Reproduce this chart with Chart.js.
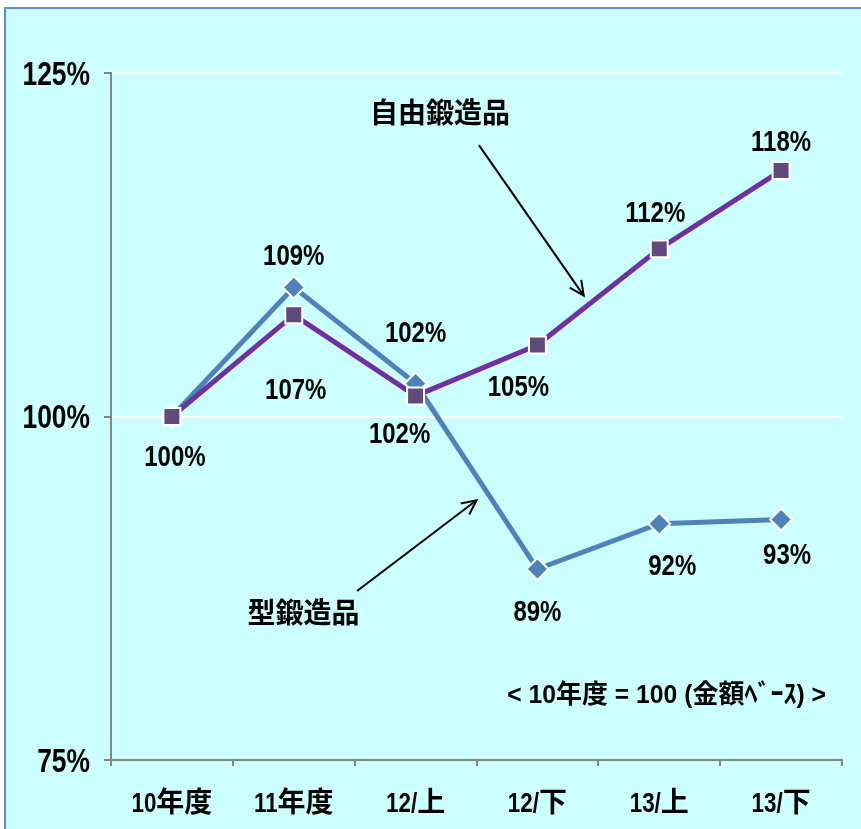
<!DOCTYPE html>
<html>
<head>
<meta charset="utf-8">
<script src="https://cdn.jsdelivr.net/npm/chart.js@4/dist/chart.umd.min.js"></script>
<style>
  html, body { margin: 0; padding: 0; background: #ffffff; }
  #wrap { position: relative; width: 861px; height: 829px; overflow: hidden; }
  #bg { position: absolute; left: 4px; top: 7px; right: -10px; bottom: -10px;
        background: #ccffff; border-left: 2px solid #5b8fd6; border-top: 2px solid #5b8fd6; }
  #c { position: absolute; left: 0; top: 0; }
</style>
</head>
<body>
<div id="wrap">
  <div id="bg"></div>
  <canvas id="c" width="861" height="829"></canvas>
</div>
<script>
// ---- data ----
const categories = ['10年度', '11年度', '12/上', '12/下', '13/上', '13/下'];
const freeForgingValues = [100, 107.4, 101.5, 105.2, 112.2, 117.9];   // 自由鍛造品
const dieForgingValues  = [100, 109.4, 102.4, 88.9, 92.2, 92.5];      // 型鍛造品
const freeForgingLabels = ['100%', '107%', '102%', '105%', '112%', '118%'];
const dieForgingLabels  = ['', '109%', '102%', '89%', '92%', '93%'];
const yTicks = [75, 100, 125];
const seriesNames = ['自由鍛造品', '型鍛造品'];
const footnote = '< 10年度 = 100 (金額ﾍﾞｰｽ) >';

// ---- styling / placement (not data) ----
const LATIN = "'Liberation Sans', Arial, sans-serif";
const CJK = "'Noto Sans CJK JP', sans-serif";
const NARROW = 0.8;
const freeLabelOffsets = [[3, 39], [2, 73], [-16, 36], [-19, 40], [-4, -38], [0, -30]];
const dieLabelOffsets  = [[0, 0], [0, -33], [0, -52], [0, 41], [13, 41], [6, 34]];
const annotations = {
  texts: [
    { text: seriesNames[0], x: 2.20, y: 122.1, size: 28, narrow: NARROW },
    { text: seriesNames[1], x: 1.08, y: 85.7, size: 28, narrow: NARROW },
    { text: footnote, x: 4.06, y: 79.8, size: 26, narrow: 0.95 }
  ],
  arrows: [
    { from: [2.52, 119.75], to: [3.38, 108.8] },
    { from: [1.52, 87.3], to: [2.50, 93.9] }
  ]
};

function runsOf(text) {
  const runs = [];
  for (const ch of text) {
    const latin = ch.charCodeAt(0) < 128;
    if (runs.length && runs[runs.length - 1].latin === latin) runs[runs.length - 1].t += ch;
    else runs.push({ t: ch, latin });
  }
  return runs;
}
function drawMixed(ctx, text, x, y, size, align, narrow) {
  const nf = narrow || NARROW;
  const runs = runsOf(text);
  let total = 0;
  runs.forEach(r => {
    ctx.font = 'bold ' + size + 'px ' + (r.latin ? LATIN : CJK);
    r.w = ctx.measureText(r.t).width * (r.latin ? nf : 1);
    total += r.w;
  });
  let cx = align === 'right' ? x - total : align === 'left' ? x : x - total / 2;
  const base = y + 0.36 * size;
  ctx.textAlign = 'left';
  ctx.textBaseline = 'alphabetic';
  runs.forEach(r => {
    ctx.font = 'bold ' + size + 'px ' + (r.latin ? LATIN : CJK);
    if (r.latin) {
      ctx.save(); ctx.translate(cx, base); ctx.scale(nf, 1);
      ctx.fillText(r.t, 0, 0); ctx.restore();
    } else {
      ctx.fillText(r.t, cx, base);
    }
    cx += r.w;
  });
}

const textPlugin = {
  id: 'texts',
  afterDatasetsDraw(chart) {
    const ctx = chart.ctx;
    const xs = chart.scales.x, ys = chart.scales.y;
    ctx.save();
    ctx.fillStyle = '#000';
    yTicks.forEach(v => drawMixed(ctx, v + '%', xs.left - 21, ys.getPixelForValue(v), 33, 'right'));
    categories.forEach((c, i) => drawMixed(ctx, c, xs.getPixelForValue(i), ys.bottom + 42, 28, 'center'));
    chart.data.datasets.forEach((ds, di) => {
      const meta = chart.getDatasetMeta(di);
      meta.data.forEach((pt, i) => {
        const t = ds.pointLabels[i];
        if (!t) return;
        const off = ds.labelOffsets[i];
        drawMixed(ctx, t, pt.x + off[0], pt.y + off[1], 30, 'center');
      });
    });
    const px = v => xs.getPixelForValue(0) + v * (xs.getPixelForValue(1) - xs.getPixelForValue(0));
    annotations.texts.forEach(a => drawMixed(ctx, a.text, px(a.x), ys.getPixelForValue(a.y), a.size, 'center', a.narrow));
    ctx.strokeStyle = '#000';
    ctx.lineWidth = 2;
    annotations.arrows.forEach(a => {
      const x1 = px(a.from[0]), y1 = ys.getPixelForValue(a.from[1]);
      const x2 = px(a.to[0]), y2 = ys.getPixelForValue(a.to[1]);
      ctx.beginPath();
      ctx.moveTo(x1, y1); ctx.lineTo(x2, y2); ctx.stroke();
      const ang = Math.atan2(y2 - y1, x2 - x1);
      const L = 16, w = 0.45;
      ctx.beginPath();
      ctx.moveTo(x2 - L * Math.cos(ang - w), y2 - L * Math.sin(ang - w));
      ctx.lineTo(x2, y2);
      ctx.lineTo(x2 - L * Math.cos(ang + w), y2 - L * Math.sin(ang + w));
      ctx.stroke();
    });
    ctx.restore();
  }
};

new Chart(document.getElementById('c'), {
  type: 'line',
  data: {
    labels: categories,
    datasets: [
      {
        label: seriesNames[0],
        data: freeForgingValues,
        pointLabels: freeForgingLabels,
        labelOffsets: freeLabelOffsets,
        borderColor: '#7030a0',
        borderWidth: 5,
        pointStyle: 'rect',
        pointRadius: 12,
        pointBackgroundColor: '#604a7b',
        pointBorderColor: '#ffffff',
        pointBorderWidth: 2,
        tension: 0
      },
      {
        label: seriesNames[1],
        data: dieForgingValues,
        pointLabels: dieForgingLabels,
        labelOffsets: dieLabelOffsets,
        borderColor: '#4f81bd',
        borderWidth: 5,
        pointStyle: 'rectRot',
        pointRadius: 11,
        pointBackgroundColor: '#4f81bd',
        pointBorderColor: '#ffffff',
        pointBorderWidth: 2,
        tension: 0
      }
    ]
  },
  options: {
    responsive: false,
    animation: false,
    layout: { padding: { left: 0, top: 73, right: 19, bottom: 0 } },
    plugins: { legend: { display: false }, tooltip: { enabled: false } },
    scales: {
      x: {
        offset: true,
        afterFit(s) { s.height = 69; },
        grid: { drawOnChartArea: false, tickLength: 6, color: '#868686', lineWidth: 2, offset: true },
        border: { color: '#868686', width: 2 },
        ticks: { display: false }
      },
      y: {
        min: 75, max: 125,
        afterFit(s) { s.width = 111; },
        afterBuildTicks(s) { s.ticks = yTicks.map(v => ({ value: v })); },
        grid: { color: '#ffffff', lineWidth: 2, tickLength: 7, tickColor: '#868686' },
        border: { color: '#868686', width: 2 },
        ticks: { display: false }
      }
    }
  },
  plugins: [textPlugin]
});
</script>
</body>
</html>
